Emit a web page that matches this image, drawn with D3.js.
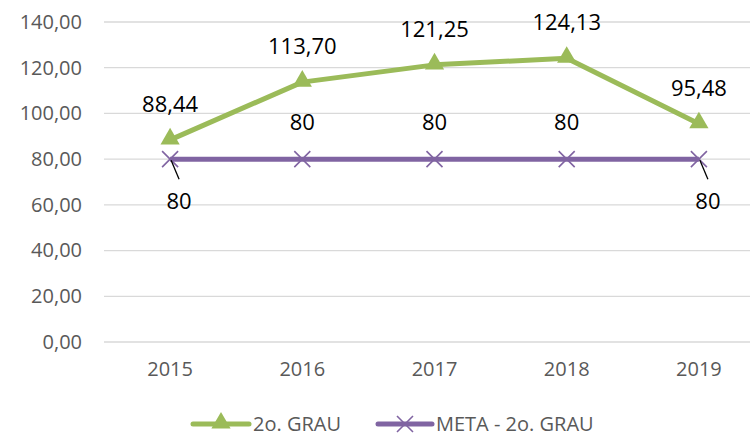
<!DOCTYPE html>
<html>
<head>
<meta charset="utf-8">
<script src="https://cdn.jsdelivr.net/npm/d3@7"></script>
<style>
  html, body { margin: 0; padding: 0; background: #fff; }
  svg { display: block; font-family: "Open Sans", sans-serif; }
</style>
</head>
<body>
<svg id="chart" width="750" height="436"></svg>
<script>
// Series data
const years = ["2015", "2016", "2017", "2018", "2019"];
const grau = [88.44, 113.70, 121.25, 124.13, 95.48];
const meta = [80, 80, 80, 80, 80];
const yTicks = [0, 20, 40, 60, 80, 100, 120, 140];
const seriesNames = ["2o. GRAU", "META - 2o. GRAU"];
// where each META label sits: above the point, or below with a leader line
const metaLabelSide = ["below", "above", "above", "above", "below"];

const green = "#9BBB59";
const purple = "#8064A2";
const fmt = v => d3.format(".2f")(v).replace(".", ",");

const svg = d3.select("#chart");

const x = d3.scaleBand().domain(years).range([104, 765]);
const y = d3.scaleLinear().domain([0, 140]).range([342, 22]);
const cx = d => x(d) + x.bandwidth() / 2;

// gridlines
svg.append("g").selectAll("line").data(yTicks).join("line")
  .attr("x1", 104).attr("x2", 750)
  .attr("y1", d => y(d)).attr("y2", d => y(d))
  .attr("stroke", "#D9D9D9").attr("stroke-width", 1.3);

// y axis labels
const yAxis = svg.append("g").attr("transform", "translate(82,0)")
  .call(d3.axisLeft(y).tickValues(yTicks).tickFormat(fmt).tickSize(0).tickPadding(0));
yAxis.select(".domain").remove();
yAxis.selectAll("text").attr("fill", "#595959").style("font-size", "20px")
  .style("font-family", "'Open Sans', sans-serif");

// x axis labels
const xAxis = svg.append("g").attr("transform", "translate(0,362)")
  .call(d3.axisBottom(x).tickSize(0).tickPadding(0));
xAxis.select(".domain").remove();
xAxis.selectAll("text").attr("fill", "#595959").style("font-size", "20px")
  .style("font-family", "'Open Sans', sans-serif");

// META line
const metaPts = years.map((yr, i) => [cx(yr), y(meta[i])]);
svg.append("path").attr("d", d3.line()(metaPts))
  .attr("fill", "none").attr("stroke", purple).attr("stroke-width", 5)
  .attr("stroke-linejoin", "round");

function xMark(g, px, py, s) {
  g.append("path")
    .attr("d", `M${px - s},${py - s}L${px + s},${py + s}M${px - s},${py + s}L${px + s},${py - s}`)
    .attr("stroke", purple).attr("stroke-width", 1.6).attr("fill", "none");
}
const metaMarks = svg.append("g");
metaPts.forEach(p => xMark(metaMarks, p[0], p[1], 8));

// 2o. GRAU line
const grauPts = years.map((yr, i) => [cx(yr), y(grau[i])]);
svg.append("path").attr("d", d3.line()(grauPts))
  .attr("fill", "none").attr("stroke", green).attr("stroke-width", 5)
  .attr("stroke-linejoin", "round");

const tri = d3.symbol().type(d3.symbolTriangle).size(160);
svg.append("g").selectAll("path").data(grauPts).join("path")
  .attr("d", tri).attr("transform", d => `translate(${d[0]},${d[1] - 1})`)
  .attr("fill", green);

// data labels
svg.append("g").selectAll("text").data(grau).join("text")
  .attr("x", (d, i) => cx(years[i]))
  .attr("y", d => y(d) - 28)
  .attr("text-anchor", "middle").style("font-size", "22px").attr("fill", "#000")
  .text(fmt);

const metaLabels = svg.append("g");
meta.forEach((v, i) => {
  const px = cx(years[i]), py = y(v);
  if (metaLabelSide[i] === "above") {
    metaLabels.append("text").attr("x", px).attr("y", py - 29)
      .attr("text-anchor", "middle").style("font-size", "22px").text(v);
  } else {
    metaLabels.append("line")
      .attr("x1", px + 1).attr("y1", py + 1).attr("x2", px + 9).attr("y2", py + 20)
      .attr("stroke", "#000").attr("stroke-width", 1.3);
    metaLabels.append("text").attr("x", px + 9).attr("y", py + 50)
      .attr("text-anchor", "middle").style("font-size", "22px").text(v);
  }
});

// legend
const legend = svg.append("g").attr("transform", "translate(0,424)");
legend.append("line").attr("x1", 193).attr("x2", 249).attr("stroke", green)
  .attr("stroke-width", 5).attr("stroke-linecap", "round");
legend.append("path").attr("d", tri).attr("transform", "translate(221,-1)").attr("fill", green);
legend.append("text").attr("x", 253).attr("y", 6.5).attr("fill", "#595959")
  .style("font-size", "20px").text(seriesNames[0]);

legend.append("line").attr("x1", 378).attr("x2", 432).attr("stroke", purple)
  .attr("stroke-width", 5).attr("stroke-linecap", "round");
xMark(legend, 405, 0, 8);
legend.append("text").attr("x", 436).attr("y", 6.5).attr("fill", "#595959")
  .style("font-size", "20px").text(seriesNames[1]);
</script>
</body>
</html>
